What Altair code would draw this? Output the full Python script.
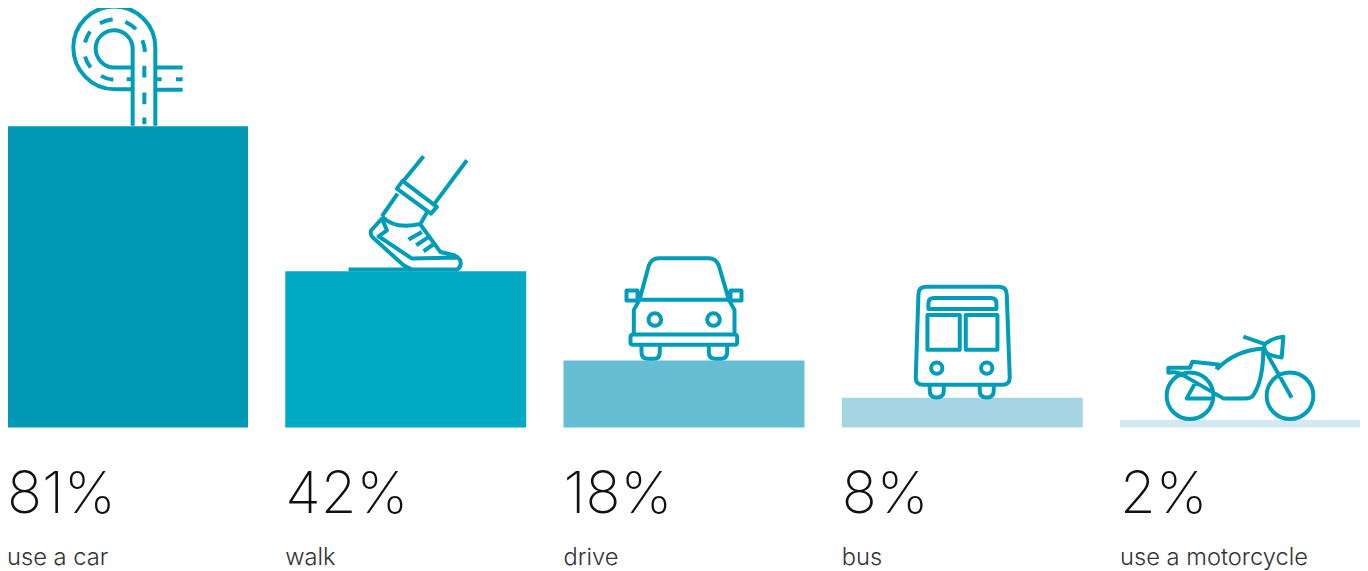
import re
import altair as alt
import pandas as pd

categories = ["use a car", "walk", "drive", "bus", "use a motorcycle"]
values = [81, 42, 18, 8, 2]
percent_labels = ["81%", "42%", "18%", "8%", "2%"]
colors = ["#0098b5", "#00aac4", "#66bed3", "#a5d5e3", "#d2e9ef"]
ICON_COLOR = "#009db9"

def circle(cx, cy, r):
    k = round(r * 0.5523, 1)
    return (f"M{cx+r},{cy} C{cx+r},{cy+k} {cx+k},{cy+r} {cx},{cy+r} C{cx-k},{cy+r} {cx-r},{cy+k} {cx-r},{cy} "
            f"C{cx-r},{cy-k} {cx-k},{cy-r} {cx},{cy-r} C{cx+k},{cy-r} {cx+r},{cy-k} {cx+r},{cy} Z ")

def rect(x0, y0, x1, y1):
    return f"M{x0},{y0} L{x1},{y0} L{x1},{y1} L{x0},{y1} Z "

def glyph(path, ox, oy, ax, ay):
    """Drawn at 3x around the crop origin (ox, oy); anchored at the top centre of the bar (ax, ay)."""
    out, is_x = [], True
    for tok in re.findall(r"[A-Za-z]|-?\d+\.?\d*", path):
        if tok.isalpha():
            out.append(tok)
            is_x = True
        else:
            v = float(tok)
            out.append(f"{((ox + v/3 - ax) if is_x else (oy + v/3 - ay))/100:.4f}")
            is_x = not is_x
    return " ".join(out)

road = ("M316,380 L316,145 C316,77 261,22 193,22 C125,22 70,77 70,145 C70,213 125,270 193,270 L245,270 "
        "M248,380 L248,148 C248,118 222,93 192,93 C162,93 137,118 137,148 C137,178 162,205 192,205 L248,205 "
        "M320,205 L398,205 M320,272 L398,272 M230,240 L245,240 M320,240 L335,240 M378,240 L398,240 "
        "M283,200 L283,235 M283,280 L283,315 M283,355 L283,375 "
        "M150,72 Q168,63 188,60 M226,68 Q244,76 258,90 M277,123 Q284,140 285,158 "
        "M120,97 Q110,112 105,130 M105,172 Q110,190 122,205 M153,230 Q170,240 190,242")
shoe = ("M250,18 L187,95 M380,30 L283,160 M187,92 L290,170 L272,190 L170,115 Z "
        "M172,130 L125,198 M125,198 Q165,240 243,220 M262,183 L240,222 L300,305 L330,312 Q350,315 360,330 Q365,350 350,358 "
        "L215,358 L190,345 L98,262 Q88,252 93,240 L125,205 L140,240 L115,258 L215,325 L355,322 "
        "M205,268 L245,245 M228,285 L262,262 M250,303 L280,282 M25,358 L215,358")
car = ("M72,148 L100,45 Q108,23 130,23 L280,23 Q302,23 310,45 L340,148 Z "
       + rect(33, 120, 66, 150) + rect(345, 120, 378, 150) +
       "M72,148 L55,178 L55,252 M340,148 L357,178 L357,252 "
       "M53,252 L357,252 Q365,252 365,260 L365,275 Q365,283 357,283 L53,283 Q45,283 45,275 L45,260 Q45,252 53,252 Z "
       + circle(118, 207, 19) + circle(294, 207, 19) +
       "M78,283 L78,305 Q78,325 98,325 L115,325 Q133,325 133,305 L133,283 "
       "M280,283 L280,305 Q280,325 300,325 L315,325 Q335,325 335,305 L335,283")
bus = ("M60,18 L280,18 Q303,18 303,42 L312,290 Q312,312 290,312 L52,312 Q30,312 30,290 L38,42 Q38,18 60,18 Z "
       "M68,85 L68,68 Q68,52 85,52 L255,52 Q272,52 272,68 L272,85 Z "
       + rect(65, 103, 162, 207) + rect(180, 103, 275, 207)
       + circle(93, 262, 17) + circle(243, 262, 17) +
       "M72,312 L72,330 Q72,350 93,350 Q114,350 114,330 L114,312 "
       "M222,312 L222,330 Q222,350 243,350 Q264,350 264,330 L264,312")
moto = (circle(105, 197, 70) + circle(405, 197, 70) +
        "M330,60 L410,203 M265,20 L330,42 M330,42 Q355,22 385,20 L380,82 Q340,78 330,62 Q325,50 330,42 Z "
        "M185,118 Q240,60 325,55 Q325,150 295,195 Q290,205 270,205 L205,205 L75,130 Q55,125 40,128 L40,113 "
        "L105,113 L112,95 L190,103 L185,118 M120,160 L95,205 L175,205")

icons = [
    glyph(road, 50, 0, 127.5, 127),
    glyph(shoe, 340, 150, 405.5, 271),
    glyph(car, 615, 250, 683.5, 360),
    glyph(bus, 905, 280, 961.5, 397),
    glyph(moto, 1155, 330, 1240.5, 420),
]

df = pd.DataFrame({"cat": categories, "v": values, "pct": percent_labels})

PX = 3.72
H = 563
x_scale = alt.Scale(domain=categories, range=[-1, 1353], paddingInner=0.1339, paddingOuter=0)
y_scale = alt.Scale(domain=[-(H - 419.5) / PX, 419.5 / PX], nice=False, zero=False)
X = alt.X("cat:N", scale=x_scale, axis=None, sort=categories)
Xleft = alt.X("cat:N", scale=x_scale, axis=None, sort=categories, bandPosition=0)
Y = alt.Y("v:Q", scale=y_scale, axis=None)
base = alt.Chart(df)

bars = base.mark_bar(cornerRadius=0).encode(
    x=X, y=Y, y2=alt.Y2(datum=0),
    color=alt.Color("cat:N", scale=alt.Scale(domain=categories, range=colors), legend=None),
)
pct = base.mark_text(align="left", baseline="alphabetic", dx=0, dy=85.5, font="Inter", fontWeight=200,
                     fontSize=58, color="#111111").encode(
    x=Xleft, y=alt.Y(datum=0, scale=y_scale, axis=None), text="pct:N")
lab = base.mark_text(align="left", baseline="alphabetic", dy=137.5, font="Inter", fontWeight=300,
                     fontSize=23.7, color="#333333").encode(
    x=Xleft, y=alt.Y(datum=0, scale=y_scale, axis=None), text="cat:N")

layers = [bars, pct, lab]
for c, shape in zip(categories, icons):
    layers.append(
        alt.Chart(df[df["cat"] == c]).mark_point(
            shape=shape, size=40000, filled=False, stroke=ICON_COLOR, strokeWidth=4, opacity=1,
            strokeJoin="round",
        ).encode(x=X, y=Y)
    )

chart = alt.layer(*layers).properties(
    width=1352, height=H, padding=0, autosize=alt.AutoSizeParams(type="none")
).configure_view(stroke=None)

chart.save("out.html", embed_options={"renderer": "svg", "actions": False})
